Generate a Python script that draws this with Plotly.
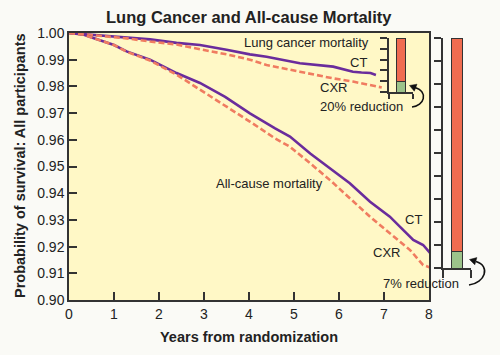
import plotly.graph_objects as go

# ---------------- data ----------------
years_lung_ct = [0, 0.5, 1.28, 1.8, 2.39, 2.91, 3.5, 4.02, 4.39, 5.13, 5.87, 6.31, 6.5, 6.7, 6.82]
surv_lung_ct = [1.0, 0.9993, 0.9981, 0.9976, 0.9963, 0.9955, 0.9937, 0.9920, 0.9911, 0.9887, 0.9874,
                0.9855, 0.9852, 0.9850, 0.9843]

years_lung_cxr = [0, 0.5, 1.28, 1.8, 2.39, 2.95, 3.5, 4.02, 4.39, 5.13, 5.87, 6.31, 6.91, 6.95]
surv_lung_cxr = [1.0, 0.9993, 0.9980, 0.9968, 0.9957, 0.9938, 0.9920, 0.9900, 0.9880, 0.9855, 0.9830,
                 0.9818, 0.9799, 0.9796]

years_all_ct = [0, 0.3, 0.54, 1.0, 1.28, 1.8, 2.39, 2.91, 3.47, 4.02, 4.58, 4.91, 5.36, 5.8, 6.24,
                6.69, 7.13, 7.43, 7.65, 7.87, 8.13]
surv_all_ct = [1.0, 0.9995, 0.9981, 0.9955, 0.9931, 0.9900, 0.9850, 0.9813, 0.9761, 0.9699, 0.9643,
               0.9612, 0.9549, 0.9493, 0.9437, 0.9368, 0.9312, 0.9262, 0.9225, 0.9206, 0.9156]

years_all_cxr = [0, 0.3, 0.54, 1.0, 1.28, 1.8, 2.39, 2.91, 3.47, 4.02, 4.58, 4.91, 5.36, 5.8, 6.24,
                 6.69, 7.13, 7.58, 7.87, 8.02]
surv_all_cxr = [1.0, 0.9995, 0.9981, 0.9955, 0.9930, 0.9897, 0.9844, 0.9788, 0.9730, 0.9668, 0.9605,
                0.9574, 0.9512, 0.9449, 0.9381, 0.9312, 0.9250, 0.9187, 0.9131, 0.9122]

lung_reduction_pct = 20
all_reduction_pct = 7

y_ticks = [0.90, 0.91, 0.92, 0.93, 0.94, 0.95, 0.96, 0.97, 0.98, 0.99, 1.00]
y_tick_labels = ["0.90", "0.91", "0.92", "0.93", "0.94", "0.95", "0.96", "0.97", "0.98", "0.99", "1.00"]
x_ticks = [0, 1, 2, 3, 4, 5, 6, 7, 8]

# ---------------- style ----------------
W, H = 500, 355
ML, MR, MT, MB = 69, 20, 33, 55
PW = W - ML - MR
PH = H - MT - MB


def px(x):
    return (x - ML) / PW


def py(y):
    return (H - MB - y) / PH


PURPLE = "#6A2C9C"
CORAL = "#F07C60"
RED = "#F06C50"
GREEN = "#9CC38A"
AX = "#333333"
YELLOW = "#FFF8C6"
BG = "#FAFAF6"
FONT = "Liberation Sans, Arial, sans-serif"
TXT = "#222222"

fig = go.Figure()

fig.add_trace(go.Scatter(x=years_lung_ct, y=surv_lung_ct, mode="lines",
                         line=dict(color=PURPLE, width=2.6), xaxis="x", yaxis="y"))
fig.add_trace(go.Scatter(x=years_lung_cxr, y=surv_lung_cxr, mode="lines",
                         line=dict(color=CORAL, width=2.6, dash="6px,3px"), xaxis="x", yaxis="y"))
fig.add_trace(go.Scatter(x=years_all_ct, y=surv_all_ct, mode="lines",
                         line=dict(color=PURPLE, width=2.6), xaxis="x", yaxis="y"))
fig.add_trace(go.Scatter(x=years_all_cxr, y=surv_all_cxr, mode="lines",
                         line=dict(color=CORAL, width=2.6, dash="6px,3px"), xaxis="x", yaxis="y"))

# reduction bars
fig.add_trace(go.Bar(x=[0.52], y=[lung_reduction_pct], width=0.375,
                     marker=dict(color=GREEN, line=dict(color=AX, width=1)), xaxis="x2", yaxis="y2"))
fig.add_trace(go.Bar(x=[0.52], y=[100 - lung_reduction_pct], width=0.375,
                     marker=dict(color=RED, line=dict(color=AX, width=1)), xaxis="x2", yaxis="y2"))
fig.add_trace(go.Bar(x=[0.5], y=[all_reduction_pct], width=0.36,
                     marker=dict(color=GREEN, line=dict(color=AX, width=1)), xaxis="x3", yaxis="y3"))
fig.add_trace(go.Bar(x=[0.5], y=[100 - all_reduction_pct], width=0.36,
                     marker=dict(color=RED, line=dict(color=AX, width=1)), xaxis="x3", yaxis="y3"))

tickfont = dict(family=FONT, size=14, color=TXT)

layout = dict(
    width=W, height=H,
    margin=dict(l=ML, r=MR, t=MT, b=MB, pad=0),
    paper_bgcolor=BG, plot_bgcolor="rgba(0,0,0,0)",
    showlegend=False, barmode="stack",
    font=dict(family=FONT, color=TXT),
    xaxis=dict(domain=[0, 360 / PW], range=[0, 8], tickvals=x_ticks, ticks="inside", ticklen=8,
               tickwidth=1.5, tickcolor=AX, showline=True, linecolor=AX, linewidth=1.5, mirror=True,
               showgrid=False, zeroline=False, tickfont=tickfont, anchor="y"),
    yaxis=dict(domain=[0, 1], range=[0.9, 1.0], tickvals=y_ticks, ticktext=y_tick_labels,
               ticks="inside", ticklen=8, tickwidth=1.5, tickcolor=AX, showline=True, linecolor=AX,
               linewidth=1.5, mirror=True, showgrid=False, zeroline=False, tickfont=tickfont,
               anchor="x"),
    xaxis2=dict(domain=[px(389), px(413)], range=[0, 1], tickvals=[0, 1], ticks="outside", ticklen=5,
                tickwidth=1.5, tickcolor=AX, showline=True, linecolor=AX, linewidth=1.5,
                showticklabels=False, showgrid=False, zeroline=False, anchor="y2"),
    yaxis2=dict(domain=[py(92), py(38)], range=[0, 100], tickvals=[0, 20, 40, 60, 80, 100],
                ticks="outside", ticklen=7, tickwidth=1.5, tickcolor=AX, showline=True, linecolor=AX,
                linewidth=1.5, showticklabels=False, showgrid=False, zeroline=False, anchor="x2"),
    xaxis3=dict(domain=[px(443), px(471)], range=[0, 1], tickvals=[0, 1], ticks="outside", ticklen=8,
                tickwidth=1.5, tickcolor=AX, showline=True, linecolor=AX, linewidth=1.5,
                showticklabels=False, showgrid=False, zeroline=False, anchor="y3"),
    yaxis3=dict(domain=[py(268), py(38)], range=[0, 100], tickvals=list(range(0, 101, 10)),
                ticks="outside", ticklen=7, tickwidth=1.5, tickcolor=AX, showline=True, linecolor=AX,
                linewidth=1.5, showticklabels=False, showgrid=False, zeroline=False, anchor="x3"),
)
fig.update_layout(**layout)

# yellow plot background
fig.add_shape(type="rect", xref="x", yref="y", x0=0, x1=8, y0=0.9, y1=1.0,
              fillcolor=YELLOW, line=dict(width=0), layer="below")


def curve(p0, c1, c2, p1):
    pts = [p0, c1, c2, p1]
    pp = [(px(a), py(b)) for a, b in pts]
    return "M {} {} C {} {}, {} {}, {} {}".format(*[v for pt in pp for v in pt])


def head(tip, b1, b2):
    pp = [(px(a), py(b)) for a, b in (tip, b1, b2)]
    return "M {} {} L {} {} L {} {} Z".format(*[v for pt in pp for v in pt])


fig.add_shape(type="path", xref="paper", yref="paper",
              path=curve((412, 107), (424, 106), (429, 92), (415, 87.5)),
              line=dict(color="#111111", width=1.6))
fig.add_shape(type="path", xref="paper", yref="paper",
              path=head((409.5, 85.5), (414.3, 91.2), (417.0, 84.2)),
              fillcolor="#111111", line=dict(color="#111111", width=0.5))
fig.add_shape(type="path", xref="paper", yref="paper",
              path=curve((469, 285), (485, 283), (491, 266), (476, 261.5)),
              line=dict(color="#111111", width=1.6))
fig.add_shape(type="path", xref="paper", yref="paper",
              path=head((469.5, 259.5), (474.8, 264.8), (476.9, 257.6)),
              fillcolor="#111111", line=dict(color="#111111", width=0.5))


def note(text, x, y, size=13, bold=False, angle=0):
    fig.add_annotation(x=px(x), y=py(y), xref="paper", yref="paper", text=f"<b>{text}</b>" if bold else text,
                       showarrow=False, xanchor="center", yanchor="middle", textangle=angle,
                       font=dict(family=FONT, size=size, color=TXT))


note("Lung Cancer and All-cause Mortality", 249, 17, size=16.5, bold=True)
note("Probability of survival: All participants", 20, 166, size=14.5, bold=True, angle=-90)
note("Years from randomization", 249, 337, size=14.5, bold=True)
note("Lung cancer mortality", 306, 43)
note("CT", 358, 62)
note("CXR", 333, 87)
note("20% reduction", 361, 106)
note("All-cause mortality", 269, 183)
note("CT", 413, 220)
note("CXR", 386, 252)
note("7% reduction", 421, 283)

fig.write_html(
    "out.html",
    config={"displayModeBar": False},
    post_script="document.body.style.margin='0';document.body.style.background='" + BG + "';",
)
